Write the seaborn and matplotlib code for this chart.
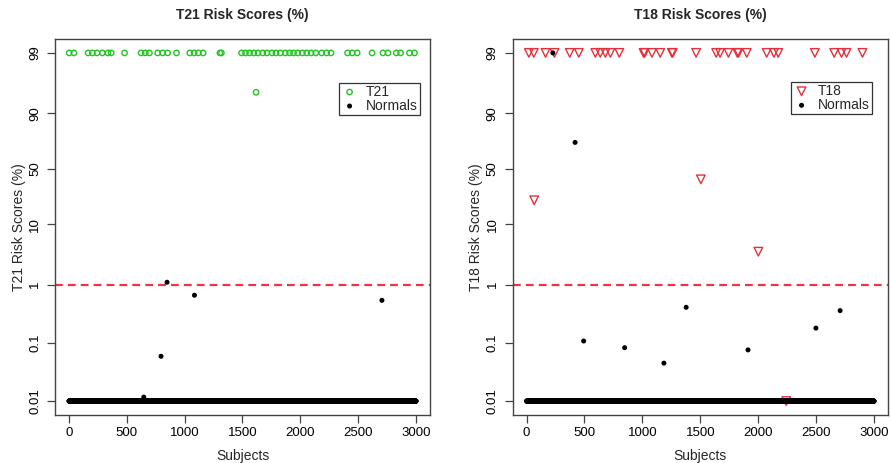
import numpy as np
import pandas as pd
import matplotlib
matplotlib.use("Agg")
import matplotlib.pyplot as plt
import matplotlib.ticker as mticker
import seaborn as sns

# %%
# DATA (risk scores in %)
n_subjects = 3000
floor_pct = 0.01

t21_subject = [3, 43, 166, 203, 243, 289, 337, 366, 481, 624, 661, 696, 767, 810, 853,
               930, 1045, 1082, 1119, 1160, 1305, 1318, 1492, 1526, 1561, 1598, 1634,
               1675, 1712, 1755, 1789, 1827, 1870, 1907, 1941, 1978, 2018, 2055, 2093,
               2133, 2184, 2227, 2265, 2408, 2448, 2491, 2620, 2714, 2757, 2829, 2866,
               2943, 2986, 1617]
t21_risk = [99] * 53 + [95.4]

t18_subject = [20, 63, 164, 241, 373, 451, 594, 637, 680, 724, 801, 1010, 1020, 1083,
               1154, 1255, 1262, 1464, 1637, 1671, 1743, 1820, 1830, 1901, 2073, 2136,
               2173, 2489, 2656, 2719, 2762, 2900, 66, 1505, 2001, 2242]
t18_risk = [99] * 32 + [22.3, 39.7, 3.6, 0.01]

# normals off the 0.01 % floor
norm21_subject = [647, 796, 848, 1085, 2705]
norm21_risk = [0.0117, 0.059, 1.1, 0.66, 0.54]
norm18_subject = [227, 419, 493, 847, 1186, 1378, 1912, 2498, 2707]
norm18_risk = [99, 74, 0.108, 0.083, 0.045, 0.41, 0.076, 0.18, 0.36]

cutoff_pct = 1
tick_pct = [0.01, 0.1, 1, 10, 50, 90, 99]
tick_lab = ["0.01", "0.1", "1", "10", "50", "90", "99"]


def normals(subj, risk):
    df = pd.DataFrame({"subject": np.arange(1, n_subjects + 1), "risk": floor_pct})
    df.loc[df["subject"].isin(subj), "risk"] = risk
    return df


# %%
sns.set_style("ticks")
plt.rcParams["font.family"] = ["Liberation Sans", "DejaVu Sans"]

fig = plt.figure(figsize=(8.9, 4.63), dpi=100)
ax1 = fig.add_axes([0.0618, 0.1037, 0.4213, 0.8121])
ax2 = fig.add_axes([0.576, 0.1037, 0.4217, 0.8121])

lo = 1 / (1 + np.exp(-(np.log(1e-4 / (1 - 1e-4)) - 0.552)))
hi = 1 / (1 + np.exp(-(np.log(0.99 / 0.01) + 0.552)))

panels = [
    (ax1, "T21", t21_subject, t21_risk, norm21_subject, norm21_risk, "o", "#22c322", 15),
    (ax2, "T18", t18_subject, t18_risk, norm18_subject, norm18_risk, "v", "#e5303c", 38),
]

for ax, name, cs, cr, ns, nr, mk, col, sz in panels:
    cases = pd.DataFrame({"subject": cs, "risk": np.array(cr) / 100})
    norm = normals(ns, nr)
    norm["risk"] = norm["risk"] / 100

    ax.set_yscale("logit")
    sns.scatterplot(data=cases, x="subject", y="risk", ax=ax, marker=mk, s=sz,
                    facecolors="none", edgecolors=col, linewidth=1.0, label=name,
                    zorder=3)
    sns.scatterplot(data=norm, x="subject", y="risk", ax=ax, marker="o", s=13,
                    color="black", edgecolor="none", linewidth=0, label="Normals",
                    zorder=4)
    ax.axhline(cutoff_pct / 100, color="#ee3344", lw=1.6, dashes=(3.5, 2.3), zorder=2)

    ax.set_xlim(-120, 3120)
    ax.set_ylim(lo, hi)
    ax.xaxis.set_major_locator(mticker.FixedLocator([0, 500, 1000, 1500, 2000, 2500, 3000]))
    ax.xaxis.set_minor_locator(mticker.NullLocator())
    ax.yaxis.set_major_locator(mticker.FixedLocator(np.array(tick_pct) / 100))
    ax.yaxis.set_minor_locator(mticker.NullLocator())
    ax.yaxis.set_major_formatter(mticker.FixedFormatter(tick_lab))
    ax.tick_params(axis="both", length=6, width=0.9, color="#444444",
                   labelsize=9.5, labelcolor="black")
    ax.tick_params(axis="x", pad=3)
    ax.tick_params(axis="y", pad=4)
    for lab in ax.get_yticklabels():
        lab.set_rotation(90)
        lab.set_va("center")

    for sp in ax.spines.values():
        sp.set_color("#444444")
        sp.set_linewidth(1.0)

    ax.set_title(f"{name} Risk Scores (%)", fontsize=10, fontweight="bold", pad=14.5)
    ax.set_xlabel("Subjects", fontsize=10, labelpad=7)
    ax.set_ylabel(f"{name} Risk Scores (%)", fontsize=10, labelpad=2.5)

    anchor = (0.973, 0.884) if name == "T21" else (0.957, 0.886)
    leg = ax.legend(loc="upper right", bbox_to_anchor=anchor, borderaxespad=0,
                    fontsize=10, frameon=True, fancybox=False, framealpha=1,
                    edgecolor="#333333", borderpad=0.15, handlelength=1.25,
                    handletextpad=0.55, labelspacing=0.0, markerscale=1.0)
    leg.get_frame().set_linewidth(0.9)

fig.savefig("out.png", dpi=100)
